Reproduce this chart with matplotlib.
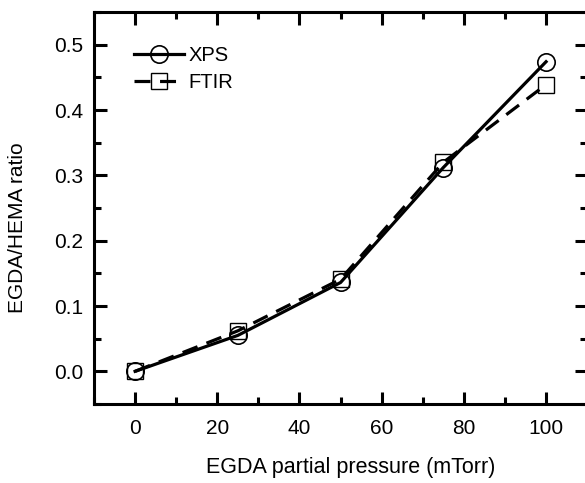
import matplotlib
matplotlib.use("Agg")
import matplotlib.pyplot as plt
from matplotlib.ticker import MultipleLocator

plt.rcParams['font.family'] = ['Liberation Sans', 'DejaVu Sans']

pressure = [0, 25, 50, 75, 100]
xps = [0.0, 0.055, 0.136, 0.312, 0.474]
ftir = [0.0, 0.062, 0.141, 0.320, 0.439]

fig = plt.figure(figsize=(5.85, 4.83), dpi=100)
ax = fig.add_axes([0.1607, 0.1636, 0.843, 0.8114])

ax.plot(pressure, xps, '-', color='black', lw=2.3, marker='o', ms=12.5,
        mfc='none', mec='black', mew=1.2, label='XPS')
ax.plot(pressure, ftir, color='black', lw=2.3, ls=(0, (5, 3)), marker='s', ms=11,
        mfc='none', mec='black', mew=1.0, label='FTIR')

ax.set_xlim(-10, 110)
ax.set_ylim(-0.05, 0.55)
ax.set_xticks([0, 20, 40, 60, 80, 100])
ax.set_yticks([0.0, 0.1, 0.2, 0.3, 0.4, 0.5])
ax.xaxis.set_minor_locator(MultipleLocator(10))
ax.yaxis.set_minor_locator(MultipleLocator(0.05))
ax.tick_params(which='both', direction='in', top=True, right=True, width=2.2,
               labelsize=15)
ax.tick_params(axis='y', pad=8)
ax.tick_params(axis='x', pad=11)
ax.tick_params(which='major', length=9)
ax.tick_params(which='minor', length=5)
for s in ax.spines.values():
    s.set_linewidth(2.2)

ax.set_xlabel('EGDA partial pressure (mTorr)', fontsize=15.5)
ax.xaxis.label.set(va='center', ha='center')
ax.xaxis.set_label_coords(0.52, -0.163)
ax.set_ylabel('EGDA/HEMA ratio', fontsize=15)
ax.yaxis.label.set(va='center', ha='center', rotation_mode='default')
ax.yaxis.set_label_coords(-0.156, 0.45)

ax.legend(loc='upper left', frameon=False, fontsize=14.5, handlelength=2.5,
          handletextpad=0.2, labelspacing=0.4, borderaxespad=0.0,
          bbox_to_anchor=(0.065, 0.935))

fig.savefig('out.png', dpi=100)
